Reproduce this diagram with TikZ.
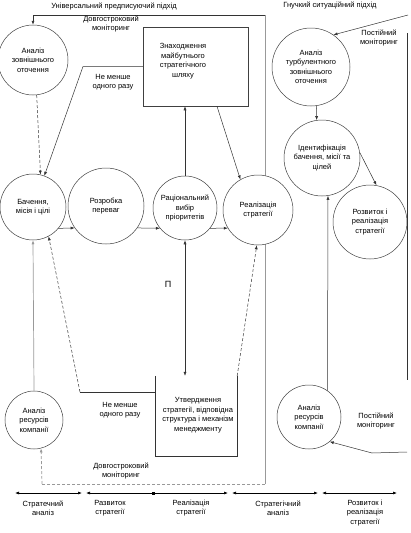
\documentclass[tikz,border=0pt]{standalone}
\usepackage{fontspec}
\setmainfont{Liberation Sans}
\usetikzlibrary{arrows.meta,backgrounds}
\begin{document}
\begin{tikzpicture}[x=1pt,y=-1pt,
  every node/.style={font=\fontsize{7.5}{9.5}\selectfont, align=center, inner sep=0pt},
  circ/.style={draw=black!75, line width=0.5pt, circle, fill=white, inner sep=0pt},
  boxnode/.style={rectangle, inner sep=0pt},
  ln/.style={draw=black!80, line width=0.5pt},
  grayln/.style={draw=black!40, line width=0.7pt},
  tip/.style={-{Latex[length=4pt,width=3pt]}},
  tips/.style={{Latex[length=4pt,width=3pt]}-{Latex[length=4pt,width=3pt]}},
  dsh/.style={dash pattern=on 3pt off 2pt},
  tl/.style={draw=black, line width=0.6pt, {Latex[length=4pt,width=3pt]}-{Latex[length=4pt,width=3pt]}},
]
\useasboundingbox (0,0) rectangle (411,533);

% ---- circles ----
\node[circ, minimum size=70pt] (c1) at (33,60) {Аналіз\\зовнішнього\\оточення};
\node[circ, minimum size=66pt] (c2) at (33,207) {Бачення,\\місія і цілі};
\node[circ, minimum size=76pt] (c3) at (106,206) {Розробка\\переваг};
\node[circ, minimum size=64pt] (c4) at (185,208) {Раціональний\\вибір\\пріоритетів};
\node[circ, minimum size=70pt] (c5) at (258,210) {Реалізація\\стратегії};
\node[circ, minimum size=58pt] (c9) at (34,420) {Аналіз\\ресурсів\\компанії};

\node[circ, minimum size=78pt] (c6) at (311,67) {Аналіз\\турбулентного\\зовнішнього\\оточення};
\node[circ, minimum size=76pt] (c7) at (322,158) {Ідентифікація\\бачення, місії та\\цілей};
\node[circ, minimum size=74pt] (c8) at (370,222) {Розвиток і\\реалізація\\стратегії};
\node[circ, minimum size=64pt] (c10) at (309,417) {Аналіз\\ресурсів\\компанії};

% ---- boxes ----
\node[boxnode, draw=black!75, line width=0.5pt, minimum width=105pt, minimum height=79pt] (b1) at (195.5,66.5) {};
\node (t1) at (183,61) {Знаходження\\майбутнього\\стратегічного\\шляху};
\node[boxnode, minimum width=82pt, minimum height=80pt] (b2) at (196,416) {};
\node (t2) at (198,415) {Утвердження\\стратегії, відповідна\\структура і механізм\\менеджменту};
\draw[ln] (b2.north west) -- (b2.south west) -- (b2.south east) -- (b2.north east);

% ---- big loop (universal approach) ----
\coordinate (lt) at (33,15);
\coordinate (rt) at (265,15);
\coordinate (rb) at (265,484);
\coordinate (lb) at (42,484);
\begin{pgfonlayer}{background}
\draw[grayln] (rt) -- (rb);
\end{pgfonlayer}
\draw[ln] (lt) -- (rt);
\draw[ln, tip] (lt) -- (c1.north);
\draw[grayln, dsh] (rb) -- (lb);
\draw[grayln, dsh, tip] (lb) -- (c9.-76);

% ---- left part connectors ----
\draw[ln, dsh, tip] (c1.-84) -- (c2.77);
\coordinate (k1) at (83,66.5);
\draw[ln, tip] (b1.west) -- (k1) -- (c2.70);
\draw[grayln, tip] (c9.north) -- (c2.south);
\coordinate (k2) at (80,392);
\draw[ln] (k2) -- (k2 -| b2.west);
\draw[ln, dsh, tip] (k2) -- (c2.-62);
\draw[ln, tip] (c2.-40) -- (c3.-145);
\draw[ln, tip] (c3.-35) -- (c4.-141);
\draw[ln, tip] (c4.-39) -- (c5.-149);
\draw[ln, tip] (c4.north) -- (c4.north |- b1.south);
\draw[ln, tip] ([xshift=21.5pt]b1.south) -- (c5.120);
\draw[ln, tips] (c4.south) -- (c4.south |- b2.north);
\draw[ln, dsh, tip] (b2.north east) -- (c5.-92);

% ---- right part connectors ----
\coordinate (r0) at (408,15);
\draw[ln, tip] (r0) -- (c6.55);
\coordinate (r1) at (407,33);
\coordinate (r2) at (407,380);
\draw[ln] (r1) -- (r2);
\draw[ln, tip] (c6.-82) -- (c7.98);
\draw[ln, tip] (c7.8) -- (c8.80);
\draw[ln, tip] (c10.55) -- (c7.-81);
\coordinate (r3) at (407,452);
\coordinate (r4) at (372,453);
\draw[ln, tip] (r3) -- (r4) -- (c10.-50);

% ---- labels ----
\node (l1) at (114,6) {Універсальний предписуючий підхід};
\node (l2) at (111,24) {Довгостроковий\\моніторинг};
\node (l3) at (113,82) {Не менше\\одного разу};
\node (l4) at (330,5) {Гнучкий ситуаційний підхід};
\node (l5) at (379,38) {Постійний\\моніторинг};
\node[font=\fontsize{9}{10}\selectfont] (l6) at (168,284) {П};
\node (l7) at (120,410) {Не менше\\одного разу};
\node (l8) at (121,471) {Довгостроковий\\моніторинг};
\node (l9) at (376,421) {Постійний\\моніторинг};

% ---- timeline ----
\coordinate (a0) at (15,493);
\coordinate (a1) at (82,493);
\coordinate (a2) at (86,493);
\coordinate (a3) at (228,493);
\coordinate (a4) at (232,493);
\coordinate (a5) at (318,493);
\coordinate (a6) at (322,493);
\coordinate (a7) at (397,493);
\draw[tl] (a0) -- (a1);
\draw[tl] (a2) -- (a3);
\draw[tl] (a4) -- (a5);
\draw[tl] (a6) -- (a7);
\node[fill=black, minimum size=3pt] (sq) at (153,493) {};
\node (p1) at (43,508) {Стратечний\\аналіз};
\node (p2) at (110,508) {Развиток\\стратегії};
\node (p3) at (191,508) {Реалізація\\стратегії};
\node (p4) at (278,508) {Стратегічний\\аналіз};
\node (p5) at (365,513) {Розвиток і\\реалізація\\стратегії};
\end{tikzpicture}
\end{document}
